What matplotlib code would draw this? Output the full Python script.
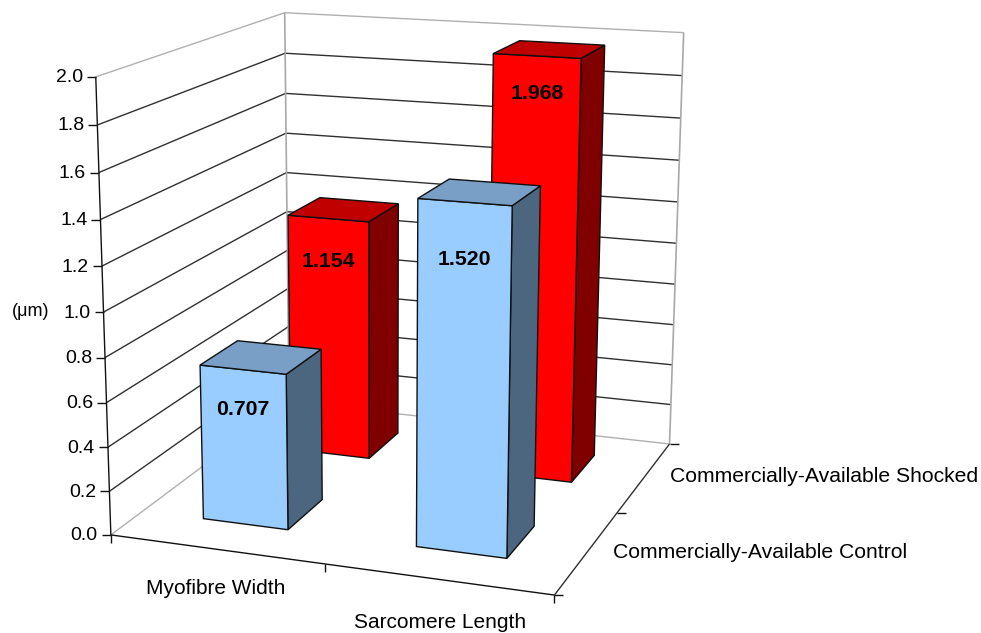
#!/usr/bin/env python3
"""3D style clustered bars drawn on a flat axes through a fitted perspective camera."""
import numpy as np
import matplotlib
matplotlib.use("Agg")
import matplotlib.pyplot as plt
from matplotlib.patches import Polygon

categories = ["Myofibre Width", "Sarcomere Length"]
series_names = ["Commercially-Available Control", "Commercially-Available Shocked"]
control = [0.707, 1.520]
shocked = [1.154, 1.968]
z_ticks = [0.0, 0.2, 0.4, 0.6, 0.8, 1.0, 1.2, 1.4, 1.6, 1.8, 2.0]

plt.rcParams["font.family"] = ["Liberation Sans", "DejaVu Sans"]

# box corners (x, depth, z) -> where they sit in the picture, for the camera fit
CORNERS = [((0, 0, 0), (111.7, 533)), ((2, 0, 0), (554.3, 597)),
           ((2, 2, 0), (670, 441.7)), ((0, 2, 0), (288, 404)),
           ((0, 0, 2), (95, 77)), ((0, 2, 2), (285.7, 12)),
           ((2, 2, 2), (683.3, 33.3))]


def fit_camera():
    rows, rhs = [], []
    for (x, y, z), (u, v) in CORNERS:
        rows.append([x, y, z, 1, 0, 0, 0, 0, -u * x, -u * y, -u * z])
        rhs.append(u)
        rows.append([0, 0, 0, 0, x, y, z, 1, -v * x, -v * y, -v * z])
        rhs.append(v)
    p = np.linalg.lstsq(np.array(rows, float), np.array(rhs, float), rcond=None)[0]
    return np.append(p, 1.0).reshape(3, 4)


P = fit_camera()


def proj(x, y, z):
    u, v, w = P @ np.array([x, y, z, 1.0])
    return u / w, v / w


def line(ax, a, b, color, lw=1.0):
    pa, pb = proj(*a), proj(*b)
    ax.plot([pa[0], pb[0]], [pa[1], pb[1]], color=color, lw=lw, solid_capstyle="butt", zorder=1)


def tick(ax, at, dx, dy):
    u, v = proj(*at)
    ax.plot([u, u + dx], [v, v + dy], color="#111111", lw=1.0, solid_capstyle="butt", zorder=1)


def bar(ax, x0, x1, y0, y1, h, front, side, top, zorder):
    corners = {"side": [(x1, y0, 0), (x1, y1, 0), (x1, y1, h), (x1, y0, h)],
               "front": [(x0, y0, 0), (x1, y0, 0), (x1, y0, h), (x0, y0, h)],
               "top": [(x0, y0, h), (x1, y0, h), (x1, y1, h), (x0, y1, h)]}
    for name, col in (("side", side), ("front", front), ("top", top)):
        pts = [proj(*c) for c in corners[name]]
        ax.add_patch(Polygon(pts, closed=True, facecolor=col, edgecolor="#101010", lw=1.0, zorder=zorder))


fig = plt.figure(figsize=(9.81, 6.33), dpi=100)
ax = fig.add_axes([0, 0, 1, 1])
ax.set_xlim(0, 981)
ax.set_ylim(633, 0)
ax.axis("off")

for z in z_ticks:
    col = "#b0b0b0" if z in (0.0, 2.0) else "#303030"
    line(ax, (0, 0, z), (0, 2, z), col)
    line(ax, (0, 2, z), (2, 2, z), col)
    tick(ax, (0, 0, z), -9, 0)
    u, v = proj(0, 0, z)
    ax.text(u - 13, v + 1, f"{z:.1f}", ha="right", va="center", fontsize=14)

line(ax, (0, 2, 0), (0, 2, 2), "#a8a8a8", 1.2)
line(ax, (2, 2, 0), (2, 2, 2), "#a8a8a8", 1.2)
line(ax, (0, 0, 0), (0, 0, 2), "#111111")
line(ax, (0, 0, 0), (2, 0, 0), "#111111")
line(ax, (2, 0, 0), (2, 2, 0), "#303030")

for at in [(0, 0, 0), (1, 0, 0), (2, 0, 0)]:
    tick(ax, at, 0, 8)
for at in [(2, 0, 0), (2, 1, 0), (2, 2, 0)]:
    tick(ax, at, 9, 0)

BAR_X = (0.295, 0.70)
BAR_Y = (0.315, 0.715)
# how far below the front top edge Excel left each value label
LABEL_DY = {0: [40, 57], 1: [43, 38]}
z = 2
for row, (vals, cols) in [(1, (shocked, ("#ff0000", "#800000", "#c00000"))),
                          (0, (control, ("#99ccff", "#4d6680", "#7a9fc7")))]:
    for i, h in enumerate(vals):
        bar(ax, i + BAR_X[0], i + BAR_X[1], row + BAR_Y[0], row + BAR_Y[1], h, *cols, zorder=z)
        z += 1
        u, v = proj(i + sum(BAR_X) / 2, row + BAR_Y[0], h)
        ax.text(u, v + LABEL_DY[row][i], f"{h:.3f}", ha="center", va="center",
                fontsize=15.3, fontweight="bold", zorder=20)

ax.text(31, 311.5, "(\u03bcm)", ha="center", va="center", fontsize=13)
ax.text(216, 589, categories[0], ha="center", va="center", fontsize=15)
ax.text(440, 622, categories[1], ha="center", va="center", fontsize=15)
ax.text(760.5, 553, series_names[0], ha="center", va="center", fontsize=15.2)
ax.text(824, 476.5, series_names[1], ha="center", va="center", fontsize=15.2)

fig.savefig("out.png", dpi=100)
